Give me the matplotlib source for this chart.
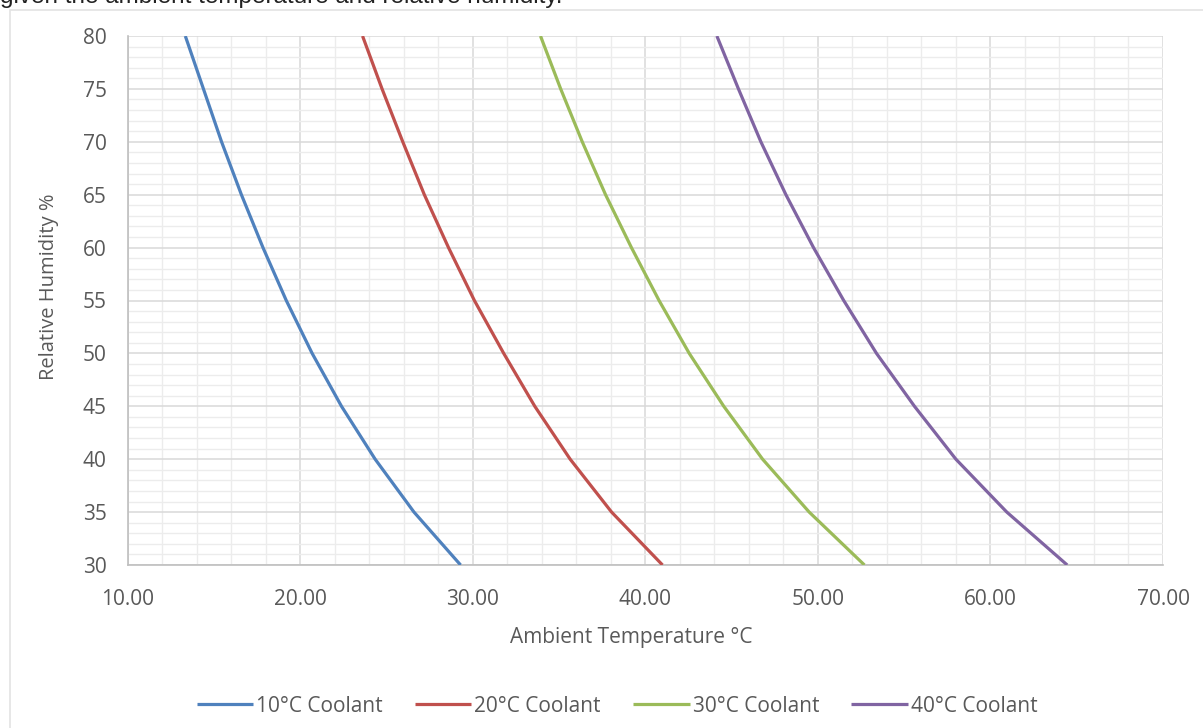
import matplotlib
matplotlib.use("Agg")
import matplotlib.pyplot as plt
from matplotlib.patches import Rectangle
from matplotlib.ticker import MultipleLocator, FormatStrFormatter

plt.rcParams['font.family'] = ['Open Sans', 'DejaVu Sans']

# Relative humidity levels (%) and the ambient temperature (°C) at which
# condensation begins for each coolant temperature
humidity = [30, 35, 40, 45, 50, 55, 60, 65, 70, 75, 80]
coolant_10 = [29.30, 26.60, 24.35, 22.40, 20.70, 19.20, 17.85, 16.60, 15.45, 14.40, 13.35]
coolant_20 = [41.00, 38.05, 35.65, 33.60, 31.80, 30.10, 28.60, 27.20, 25.95, 24.75, 23.62]
coolant_30 = [52.70, 49.50, 46.80, 44.55, 42.55, 40.80, 39.20, 37.70, 36.35, 35.10, 33.93]
coolant_40 = [64.45, 60.95, 58.00, 55.60, 53.40, 51.50, 49.75, 48.15, 46.70, 45.40, 44.15]

series_labels = ["10°C Coolant", "20°C Coolant", "30°C Coolant", "40°C Coolant"]
series_colors = ["#4F81BD", "#C0504D", "#9BBB59", "#8064A2"]

W, H = 1203, 728
fig = plt.figure(figsize=(W / 100, H / 100), dpi=100)

# caption line running off the top edge of the page
fig.text(0.0, 1 - 3 / H, "given the ambient temperature and relative humidity.",
         fontsize=17.5, color="#222222", family="Liberation Sans",
         ha="left", va="baseline")

# chart frame
fig.patches.append(Rectangle((10 / W, -0.05), 1.2, 1 - 10 / H + 0.05,
                             transform=fig.transFigure, fill=False,
                             edgecolor="#e3e3e3", linewidth=1.2))

left, right, top, bottom = 127.5 / W, 1163 / W, 1 - 36 / H, 1 - 565 / H
ax = fig.add_axes([left, bottom, right - left, top - bottom])

for vals, lab, col in zip([coolant_10, coolant_20, coolant_30, coolant_40],
                          series_labels, series_colors):
    ax.plot(vals, humidity, color=col, linewidth=2.3, label=lab,
            solid_capstyle="butt", solid_joinstyle="round", zorder=3)

ax.set_xlim(10, 70)
ax.set_ylim(30, 80)
ax.xaxis.set_major_locator(MultipleLocator(10))
ax.xaxis.set_minor_locator(MultipleLocator(2))
ax.yaxis.set_major_locator(MultipleLocator(5))
ax.yaxis.set_minor_locator(MultipleLocator(1))
ax.xaxis.set_major_formatter(FormatStrFormatter("%.2f"))

ax.grid(which="minor", color="#ececec", linewidth=1.0, zorder=0)
ax.grid(which="major", color="#d9d9d9", linewidth=1.1, zorder=1)
ax.set_axisbelow(True)

for s in ["top", "right"]:
    ax.spines[s].set_visible(False)
for s in ["left", "bottom"]:
    ax.spines[s].set_color("#bfbfbf")
    ax.spines[s].set_linewidth(1.2)

ax.tick_params(which="both", length=0, labelsize=15, labelcolor="#595959")
ax.tick_params(axis="y", pad=15)
ax.tick_params(axis="x", pad=17.5)

ax.set_xlabel("Ambient Temperature °C", fontsize=15, color="#595959", labelpad=12)
ax.set_ylabel("Relative Humidity %", fontsize=14.5, color="#595959", labelpad=17)
ax.xaxis.label.set_x(0.4867)
ax.yaxis.label.set_y(0.5265)

fig.legend(loc="center", bbox_to_anchor=(0.513, 1 - 706 / H), ncol=4,
           frameon=False, fontsize=15, labelcolor="#595959",
           handlelength=2.7, handletextpad=0.15, columnspacing=1.55)

fig.savefig("out.png", dpi=100, facecolor="white")
